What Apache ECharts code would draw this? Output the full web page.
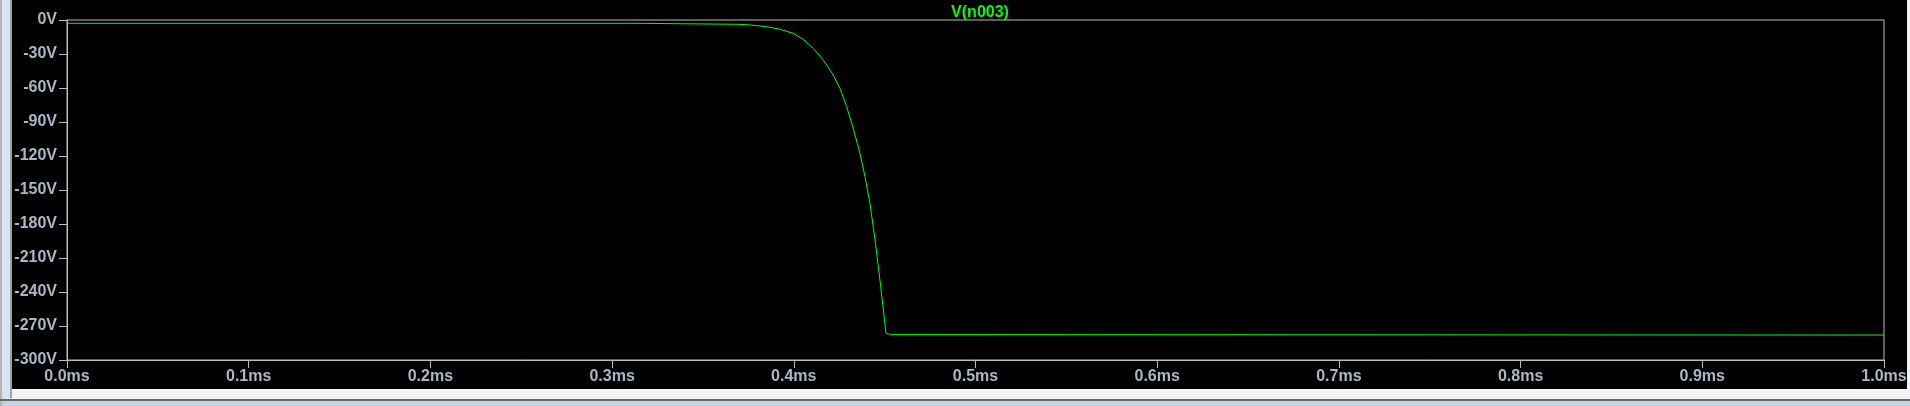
<!DOCTYPE html>
<html>
<head>
<meta charset="utf-8">
<script src="https://cdn.jsdelivr.net/npm/echarts@6/dist/echarts.min.js"></script>
<style>
html,body{margin:0;padding:0;background:#d9e4f1;}
#chart{width:1910px;height:406px;}
</style>
</head>
<body>
<div id="chart"></div>
<script>
// Data (time in ms, voltage in V)
const timeMs = [0, 0.3126, 0.3127, 0.3700, 0.3759, 0.3851, 0.3924, 0.3997, 0.4052, 0.4107, 0.4162, 0.4217, 0.4254, 0.4291, 0.4327, 0.4364, 0.4392, 0.4419, 0.4447, 0.4474, 0.4493, 0.4507, 0.4539, 1.0];
const voltage = [-2.9, -2.9, -3.8, -3.8, -4.4, -5.9, -8.2, -11.8, -17.1, -25.0, -35.3, -48.5, -60.3, -76.5, -95.6, -117.6, -138.3, -161.7, -194.1, -229.4, -255.9, -276.5, -277.6, -278.0];
const seriesName = 'V(n003)';
const xTicks = { min: 0, max: 1, interval: 0.1, unit: 'ms' };
const yTicks = { min: -300, max: 0, interval: 30, unit: 'V' };

const labelColor = '#a9b7c6';
const axisColor = '#bdbdbd';
const traceColor = '#00ff00';
const font = '"Liberation Sans", Arial, sans-serif';

const chart = echarts.init(document.getElementById('chart'));
chart.setOption({
  animation: false,
  backgroundColor: '#d9e4f1',
  graphic: [
    { type: 'rect', z: -100, shape: { x: 0, y: 0, width: 2, height: 406 }, style: { fill: '#b4b4b4' } },
    { type: 'rect', z: -100, shape: { x: 10, y: 0, width: 2, height: 398 }, style: { fill: '#a0a0a0' } },
    { type: 'rect', z: -100, shape: { x: 12, y: 389, width: 1898, height: 10 }, style: { fill: '#f2f4f7' } },
    { type: 'rect', z: -100, shape: { x: 0, y: 399, width: 1910, height: 2 }, style: { fill: '#666666' } },
    { type: 'rect', z: -100, shape: { x: 2, y: 401, width: 1908, height: 5 }, style: { fill: '#c3d3e6' } },
    { type: 'rect', z: -100, shape: { x: 1907, y: 0, width: 3, height: 389 }, style: { fill: '#eef2f7' } },
    { type: 'rect', z: -99, shape: { x: 12, y: 0, width: 1895, height: 389 }, style: { fill: '#000000' } }
  ],
  title: {
    text: seriesName,
    left: 975,
    top: 0,
    textAlign: 'center',
    textStyle: { color: traceColor, fontFamily: font, fontWeight: 'bold', fontSize: 16 }
  },
  grid: {
    left: 67, right: 26, top: 20, bottom: 46,
    show: true, borderColor: axisColor, borderWidth: 1, backgroundColor: 'transparent'
  },
  xAxis: {
    type: 'value',
    min: xTicks.min, max: xTicks.max, interval: xTicks.interval,
    splitLine: { show: false },
    axisLine: { show: true, onZero: false, lineStyle: { color: axisColor, width: 1 } },
    axisTick: { show: true, length: 8, inside: false, lineStyle: { color: axisColor } },
    axisLabel: {
      color: labelColor, fontFamily: font, fontWeight: 'bold', fontSize: 16, margin: 9,
      showMinLabel: true, showMaxLabel: true,
      formatter: v => v.toFixed(1) + xTicks.unit
    }
  },
  yAxis: {
    type: 'value',
    min: yTicks.min, max: yTicks.max, interval: yTicks.interval,
    splitLine: { show: false },
    axisLine: { show: true, onZero: false, lineStyle: { color: axisColor, width: 1 } },
    axisTick: { show: true, length: 8, inside: false, lineStyle: { color: axisColor } },
    axisLabel: {
      color: labelColor, fontFamily: font, fontWeight: 'bold', fontSize: 16, margin: 10,
      showMinLabel: true, showMaxLabel: true,
      formatter: v => Math.round(v) + yTicks.unit
    }
  },
  series: [{
    name: seriesName,
    type: 'line',
    showSymbol: false,
    symbol: 'none',
    data: timeMs.map((t, i) => [t, voltage[i]]),
    lineStyle: { color: traceColor, width: 1 },
    itemStyle: { color: traceColor }
  }]
});
</script>
</body>
</html>
